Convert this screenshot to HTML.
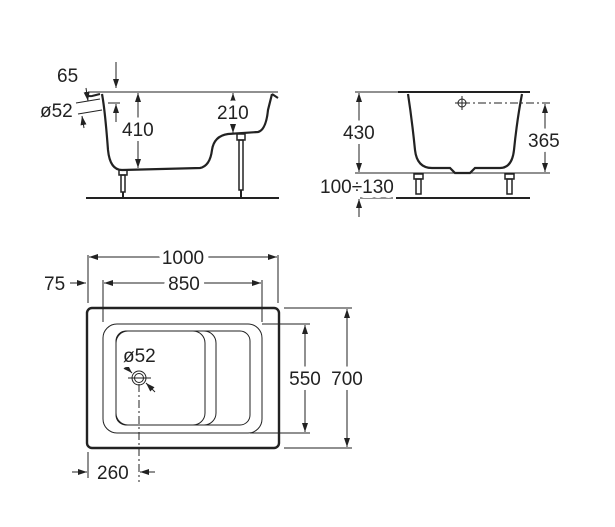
<!DOCTYPE html>
<html><head><meta charset="utf-8"><style>
html,body{margin:0;padding:0;background:#fff}
svg{display:block}
text{font-family:"Liberation Sans",sans-serif;font-size:19px;fill:#222;stroke:#fff;stroke-width:10px;paint-order:stroke;stroke-linejoin:round}
</style></head><body>
<svg width="615" height="527" viewBox="0 0 615 527" xmlns="http://www.w3.org/2000/svg">
<defs>
<marker id="a" viewBox="0 0 12 8" refX="12" refY="4" markerWidth="12" markerHeight="6" orient="auto-start-reverse" markerUnits="userSpaceOnUse"><path d="M0,0 L12,4 L0,8 z" fill="#222"/></marker>
</defs>
<g stroke="#222" fill="none" stroke-width="1">
<line x1="86" y1="198" x2="279" y2="198" stroke-width="2"/>
<line x1="88" y1="92" x2="278" y2="92"/>
<path d="M102,94 Q105,110 108,150 Q110,170 122,170 L200,168 Q210,166 212,150 Q214,136 228,134 L258,132 Q266,130 268,110 L272,94" stroke-width="2.2"/>
<path d="M86,92 Q86,97 92,96 L100,94 M272,94 L278,98" stroke-width="2"/>
<rect x="119" y="170" width="8" height="5" stroke-width="1.5"/>
<rect x="121" y="175" width="4" height="17" stroke-width="1.5"/>
<line x1="123" y1="192" x2="123" y2="198" stroke-width="2"/>
<rect x="237" y="134" width="8" height="6" stroke-width="1.5"/>
<rect x="239" y="140" width="4" height="50" stroke-width="1.5"/>
<line x1="241" y1="190" x2="241" y2="198" stroke-width="2"/>
<line x1="138" y1="93" x2="138" y2="168" marker-start="url(#a)" marker-end="url(#a)"/>
<line x1="233" y1="93" x2="233" y2="133" marker-start="url(#a)" marker-end="url(#a)"/>
<line x1="116" y1="62" x2="116" y2="88" marker-end="url(#a)"/>
<line x1="76" y1="103" x2="100" y2="99"/>
<line x1="78" y1="114" x2="102" y2="110"/>
<line x1="108" y1="103" x2="120" y2="103"/>
<line x1="86" y1="88" x2="88" y2="101" marker-end="url(#a)"/>
<line x1="84" y1="128" x2="82" y2="116" marker-end="url(#a)"/>
<line x1="116" y1="122" x2="116" y2="104" marker-end="url(#a)"/>
<line x1="396" y1="198" x2="530" y2="198" stroke-width="2"/>
<line x1="355" y1="92" x2="398" y2="92"/>
<line x1="398" y1="92" x2="530" y2="92" stroke-width="2"/>
<path d="M408,94 Q412,120 415,150 Q417,168 432,168 L450,168 L455,173 L470,173 L475,168 L500,168 Q512,168 514,150 Q517,120 522,94" stroke-width="2.2"/>
<line x1="355" y1="173" x2="550" y2="173"/>
<line x1="462" y1="103" x2="550" y2="103" stroke-dasharray="8,3,2,3"/>
<circle cx="462" cy="103" r="4"/>
<line x1="455" y1="103" x2="469" y2="103"/><line x1="462" y1="96" x2="462" y2="110"/>
<rect x="414" y="174" width="9" height="5" stroke-width="1.5"/>
<rect x="416" y="179" width="5" height="15" stroke-width="1.5"/>
<rect x="505" y="174" width="9" height="5" stroke-width="1.5"/>
<rect x="507" y="179" width="5" height="15" stroke-width="1.5"/>
<line x1="359" y1="93" x2="359" y2="172" marker-start="url(#a)" marker-end="url(#a)"/>
<line x1="545" y1="104" x2="545" y2="172" marker-start="url(#a)" marker-end="url(#a)"/>
<line x1="360" y1="198" x2="393" y2="198"/>
<line x1="359" y1="217" x2="359" y2="199" marker-end="url(#a)"/>
<rect x="87" y="308" width="192" height="140" rx="5" stroke-width="2.4"/>
<rect x="103" y="324" width="159" height="109" rx="14"/>
<rect x="116" y="331" width="100" height="94" rx="12"/>
<rect x="116" y="331" width="134" height="94" rx="10"/>
<rect x="116" y="331" width="89" height="94" rx="12" fill="#fff"/>
<circle cx="139" cy="378" r="7"/><circle cx="139" cy="378" r="4.5"/>
<line x1="128" y1="378" x2="151" y2="378"/>
<line x1="139" y1="384" x2="139" y2="482" stroke-dasharray="8,3,2,3"/>
<line x1="124" y1="365" x2="132" y2="373" marker-end="url(#a)"/>
<line x1="155" y1="392" x2="146" y2="383" marker-end="url(#a)"/>
<line x1="88" y1="255" x2="88" y2="303"/><line x1="278" y1="255" x2="278" y2="303"/>
<line x1="103" y1="280" x2="103" y2="322"/><line x1="262" y1="280" x2="262" y2="322"/>
<line x1="89" y1="257" x2="277" y2="257" marker-start="url(#a)" marker-end="url(#a)"/>
<line x1="104" y1="283" x2="261" y2="283" marker-start="url(#a)" marker-end="url(#a)"/>
<line x1="70" y1="283" x2="86" y2="283" marker-end="url(#a)"/>
<line x1="262" y1="324" x2="310" y2="324"/><line x1="250" y1="433" x2="310" y2="433"/>
<line x1="284" y1="308" x2="352" y2="308"/><line x1="284" y1="448" x2="352" y2="448"/>
<line x1="305" y1="325" x2="305" y2="432" marker-start="url(#a)" marker-end="url(#a)"/>
<line x1="347" y1="309" x2="347" y2="447" marker-start="url(#a)" marker-end="url(#a)"/>
<line x1="88" y1="452" x2="88" y2="478"/>
<line x1="72" y1="472" x2="87" y2="472" marker-end="url(#a)"/>
<line x1="155" y1="472" x2="140" y2="472" marker-end="url(#a)"/>
</g>
<text x="57" y="82">65</text>
<text x="40" y="117">ø52</text>
<text x="122" y="136">410</text>
<text x="217" y="119">210</text>
<text x="343" y="139">430</text>
<text x="528" y="147">365</text>
<text x="320" y="193">100÷130</text>
<text x="183" y="264" text-anchor="middle">1000</text>
<text x="184" y="290" text-anchor="middle">850</text>
<text x="44" y="290">75</text>
<text x="123" y="362">ø52</text>
<text x="305" y="385" text-anchor="middle">550</text>
<text x="347" y="385" text-anchor="middle">700</text>
<text x="97" y="479">260</text>
</svg>
</body></html>
